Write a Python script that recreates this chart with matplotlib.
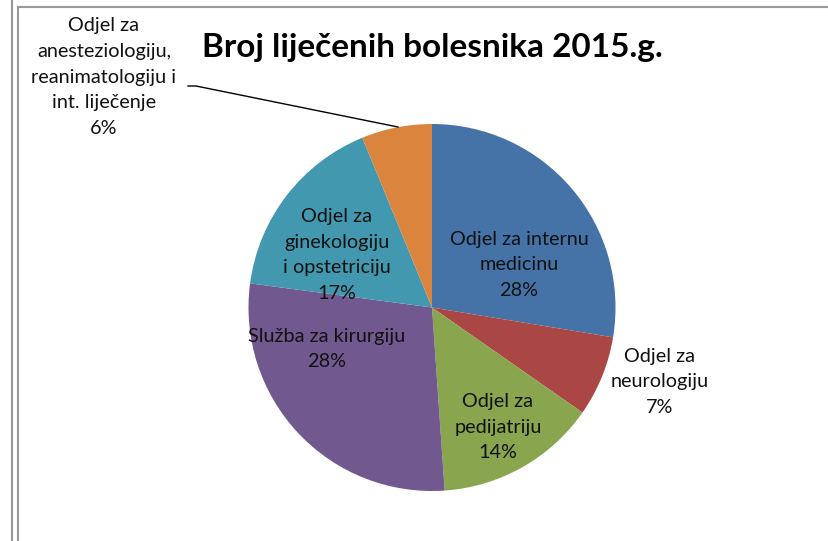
import matplotlib.pyplot as plt
from matplotlib.lines import Line2D

# shares (percent), clockwise from 12 o'clock
departments = [
    "Odjel za internu\nmedicinu",
    "Odjel za\nneurologiju",
    "Odjel za\npedijatriju",
    "Služba za kirurgiju",
    "Odjel za\nginekologiju\ni opstetriciju",
    "Odjel za\nanesteziologiju,\nreanimatologiju i\nint. liječenje",
]
shares = [27.6, 7.1, 14.2, 28.2, 16.7, 6.2]
pct_labels = ["28%", "7%", "14%", "28%", "17%", "6%"]
colors = ["#4572A7", "#AA4643", "#89A54E", "#71588F", "#4198AF", "#DB843D"]

# label centres in pixel coordinates (x, y from top)
label_pos = [(519, 265), (660, 382), (498, 427), (327, 349), (337, 255), (104, 77)]

W, H = 829, 541
plt.rcParams["font.family"] = ["Lato", "DejaVu Sans"]

fig = plt.figure(figsize=(W / 100, H / 100), dpi=100)
ax = fig.add_axes([0, 0, 1, 1])

cx, cy, r = 432, H - 307.5, 183.5
ax.pie(shares, colors=colors, startangle=90, counterclock=False,
       center=(cx, cy), radius=r, frame=True,
       wedgeprops=dict(linewidth=0))
ax.set_xlim(0, W)
ax.set_ylim(0, H)
ax.set_aspect("equal")
ax.axis("off")

for name, pct, (x, y) in zip(departments, pct_labels, label_pos):
    ax.text(x, H - y, f"{name}\n{pct}", ha="center", va="center",
            fontsize=14.3, linespacing=1.62, color="#111111")

# leader line for the small slice
ax.add_line(Line2D([188, 196, 398], [H - 86, H - 86, H - 127], color="black", lw=1))

ax.text(432, H - 47, "Broj liječenih bolesnika 2015.g.", ha="center", va="center",
        fontsize=24, fontweight="bold")

# frame lines of the sheet
ax.add_line(Line2D([12, 12], [0, H], color="#999999", lw=1.5))
ax.add_line(Line2D([18, 18], [0, H - 7], color="#999999", lw=1.5))
ax.add_line(Line2D([18, W], [H - 7, H - 7], color="#999999", lw=1.5))

fig.savefig("out.png", dpi=100)
